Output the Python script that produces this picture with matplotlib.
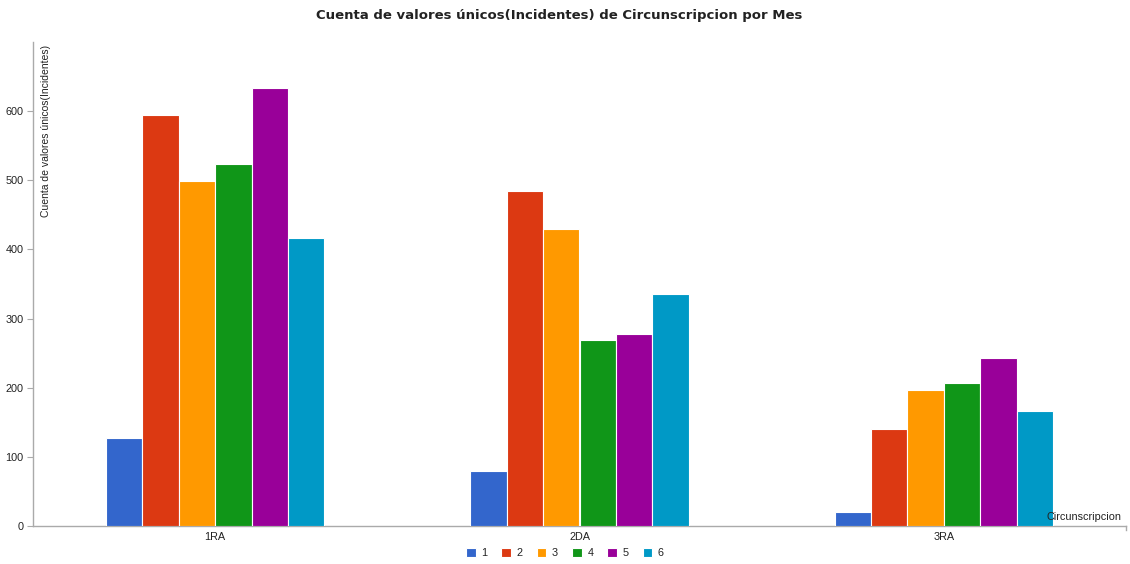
import matplotlib.pyplot as plt
import numpy as np

categories = ["1RA", "2DA", "3RA"]
months = ["1", "2", "3", "4", "5", "6"]
mes_1 = [127, 79, 20]
mes_2 = [594, 485, 141]
mes_3 = [499, 430, 196]
mes_4 = [524, 269, 207]
mes_5 = [633, 278, 243]
mes_6 = [417, 335, 167]
series = [mes_1, mes_2, mes_3, mes_4, mes_5, mes_6]
colors = ["#3366cc", "#dc3912", "#ff9900", "#109618", "#990099", "#0099c6"]

plt.rcParams.update({
    "font.family": ["Liberation Sans", "DejaVu Sans"],
    "text.color": "#222222",
    "xtick.color": "#222222",
    "ytick.color": "#222222",
})

W, H = 1130, 564
fig = plt.figure(figsize=(W / 100, H / 100), dpi=100, facecolor="white")
ax = fig.add_axes([33 / W, 1 - 526 / H, (1126 - 33) / W, (526 - 42) / H])

x = np.arange(len(categories))
width = 0.1
for i, (vals, c, lab) in enumerate(zip(series, colors, months)):
    ax.bar(x + (i - 2.5) * width, vals, width=width, color=c, edgecolor="white",
           linewidth=0.8, label=lab, zorder=3)

ax.set_xlim(-0.5, 2.5)
ax.set_ylim(0, 700)
ax.set_yticks([0, 100, 200, 300, 400, 500, 600])
ax.set_xticks(x)
ax.set_xticklabels(categories)
ax.tick_params(axis="y", length=4, width=0.8, color="#aaaaaa", labelsize=7.8, pad=3)
ax.tick_params(axis="x", length=0, labelsize=7.8, pad=4)
for s in ["top", "right"]:
    ax.spines[s].set_visible(False)
for s in ["left", "bottom"]:
    ax.spines[s].set_color("#aaaaaa")
    ax.spines[s].set_linewidth(1.0)
# small end tick at the right of the category axis
ax.plot([1, 1], [0, -0.008], transform=ax.transAxes, color="#aaaaaa",
        linewidth=1.0, clip_on=False)

ax.text(0.007, 0.995, "Cuenta de valores únicos(Incidentes)", transform=ax.transAxes,
        rotation=90, ha="left", va="top", fontsize=7.5)
ax.text(0.996, 0.008, "Circunscripcion", transform=ax.transAxes,
        ha="right", va="bottom", fontsize=7.8)

fig.text(0.495, 1 - 15 / H, "Cuenta de valores únicos(Incidentes) de Circunscripcion por Mes",
         ha="center", va="center", fontsize=9.5, fontweight="bold",
         family=["DejaVu Sans"], color="#222222")

fig.legend(loc="center", bbox_to_anchor=(0.5, 1 - 553 / H), ncol=6, frameon=False,
           fontsize=7.8, handlelength=0.9, handleheight=0.9, handletextpad=0.5,
           columnspacing=1.3)

fig.savefig("out.png", dpi=100, facecolor="white")
